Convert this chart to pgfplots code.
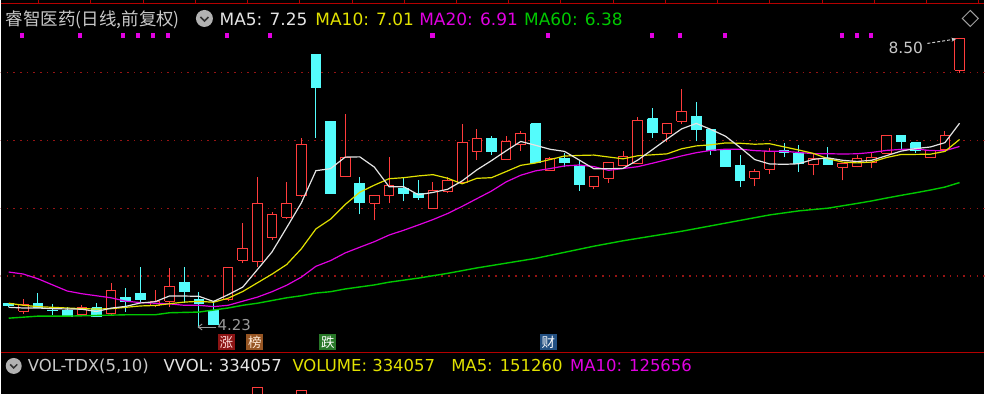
\documentclass[border=0pt]{standalone}
\usepackage{pgfplots}
\pgfplotsset{compat=1.18}
\usepackage{pgfplotstable}
\usepackage{fontspec}
\setmainfont{DejaVu Sans}
\newfontfamily\cjk{Noto Sans CJK SC}
\usetikzlibrary{arrows.meta}

\definecolor{upred}{RGB}{255,60,60}
\definecolor{dncyan}{RGB}{84,252,252}
\definecolor{mafive}{RGB}{228,228,228}
\definecolor{maten}{RGB}{225,225,0}
\definecolor{matwenty}{RGB}{225,0,225}
\definecolor{masixty}{RGB}{0,200,0}
\definecolor{gridred}{RGB}{150,20,20}
\definecolor{sepred}{RGB}{180,0,0}
\definecolor{txtgray}{RGB}{200,200,200}
\definecolor{zhangbg}{RGB}{140,20,20}
\definecolor{bangbg}{RGB}{150,85,35}
\definecolor{diebg}{RGB}{40,120,40}
\definecolor{caibg}{RGB}{35,80,130}

% candles: index open high low close
\pgfplotstableread{
i o h l c
0 4.60 4.61 4.55 4.56
1 4.48 4.66 4.44 4.58
2 4.59 4.75 4.53 4.54
3 4.50 4.59 4.43 4.49
4 4.50 4.54 4.41 4.41
5 4.43 4.57 4.43 4.54
6 4.53 4.60 4.41 4.41
7 4.455 4.90 4.43 4.79
8 4.69 4.82 4.47 4.62
9 4.75 5.13 4.60 4.66
10 4.57 4.79 4.54 4.63
11 4.63 5.12 4.54 4.84
12 4.91 5.13 4.60 4.78
13 4.65 4.76 4.23 4.60
14 4.50 4.60 4.28 4.28
15 4.65 5.14 4.64 5.13
16 5.235 5.78 5.19 5.40
17 5.21 6.46 5.13 6.07
18 5.57 5.94 5.53 5.90
19 5.87 6.38 5.84 6.07
20 6.18 7.03 6.16 6.94
21 8.265 8.27 7.04 7.78
22 7.28 7.29 6.21 6.22
23 6.46 7.38 6.46 6.75
24 6.37 6.46 5.91 6.09
25 6.07 6.19 5.82 6.18
26 6.19 6.75 6.07 6.34
27 6.29 6.46 6.10 6.22
28 6.21 6.41 6.12 6.16
29 6.00 6.38 6.00 6.26
30 6.25 6.46 6.22 6.41
31 6.38 7.24 6.38 6.96
32 6.84 7.16 6.71 7.03
33 7.03 7.07 6.79 6.84
34 6.71 7.07 6.71 6.985
35 6.94 7.13 6.84 7.10
36 7.24 7.26 6.66 6.68
37 6.56 6.75 6.56 6.735
38 6.735 6.81 6.60 6.68
39 6.62 6.71 6.26 6.35
40 6.32 6.47 6.28 6.46
41 6.44 6.68 6.37 6.68
42 6.63 6.84 6.63 6.76
43 6.66 7.34 6.66 7.29
44 7.32 7.47 7.04 7.12
45 7.10 7.24 6.97 7.24
46 7.28 7.76 7.24 7.43
47 7.35 7.57 6.985 7.16
48 7.16 7.16 6.79 6.85
49 6.85 6.86 6.61 6.62
50 6.63 6.78 6.31 6.41
51 6.44 6.57 6.32 6.54
52 6.57 6.88 6.51 6.84
53 6.85 6.96 6.75 6.82
54 6.81 6.93 6.53 6.66
55 6.65 6.82 6.485 6.735
56 6.735 6.90 6.64 6.65
57 6.60 6.67 6.41 6.66
58 6.62 6.78 6.60 6.735
59 6.68 6.81 6.59 6.75
60 6.81 7.08 6.80 7.07
61 7.07 7.08 6.85 6.985
62 6.96 6.97 6.81 6.85
63 6.75 6.86 6.74 6.85
64 6.87 7.13 6.86 7.07
65 8.03 8.50 7.985 8.50
}\candles

% moving averages
\pgfplotstableread{
i ma5 ma10 ma20
0 4.54 4.60 5.06
1 4.53 4.57 5.03
2 4.53 4.55 4.96
3 4.52 4.54 4.87
4 4.516 4.53 4.78
5 4.512 4.52 4.74
6 4.478 4.515 4.71
7 4.528 4.52 4.68
8 4.554 4.54 4.63
9 4.604 4.560 4.61
10 4.622 4.567 4.60
11 4.708 4.593 4.59
12 4.706 4.617 4.57
13 4.702 4.628 4.57
14 4.626 4.615 4.55
15 4.726 4.674 4.57
16 4.838 4.773 4.63
17 5.096 4.901 4.69
18 5.356 5.029 4.77
19 5.714 5.170 4.865
20 6.076 5.401 4.984
21 6.552 5.695 5.144
22 6.582 5.839 5.228
23 6.752 6.054 5.341
24 6.756 6.235 5.425
25 6.604 6.340 5.507
26 6.316 6.434 5.604
27 6.316 6.449 5.675
28 6.198 6.475 5.752
29 6.232 6.494 5.832
30 6.278 6.441 5.921
31 6.402 6.359 6.027
32 6.564 6.440 6.140
33 6.700 6.449 6.252
34 6.845 6.539 6.387
35 6.983 6.631 6.485
36 6.927 6.665 6.549
37 6.868 6.716 6.583
38 6.836 6.768 6.622
39 6.709 6.777 6.636
40 6.581 6.782 6.612
41 6.581 6.754 6.557
42 6.586 6.727 6.584
43 6.708 6.772 6.611
44 6.862 6.786 6.662
45 7.018 6.800 6.715
46 7.168 6.875 6.770
47 7.248 6.917 6.817
48 7.160 6.934 6.851
49 7.060 6.961 6.869
50 6.894 6.956 6.869
51 6.716 6.942 6.848
52 6.652 6.950 6.839
53 6.646 6.903 6.838
54 6.654 6.857 6.821
55 6.719 6.807 6.803
56 6.741 6.729 6.802
57 6.705 6.679 6.798
58 6.688 6.667 6.801
59 6.706 6.680 6.821
60 6.773 6.746 6.851
61 6.840 6.791 6.866
62 6.878 6.792 6.871
63 6.901 6.795 6.849
64 6.965 6.836 6.846
65 7.251 7.012 6.909
}\mas

\pgfplotstableread{
i ma60
0 4.38
2 4.41
4 4.41
6 4.42
8 4.43
10 4.43
11 4.46
13 4.47
14 4.50
15 4.53
16 4.57
17 4.60
18 4.64
19 4.68
20 4.71
21 4.75
22 4.77
23 4.81
24 4.84
25 4.87
26 4.91
28 4.97
30 5.04
32 5.12
34 5.19
36 5.26
38 5.35
40 5.44
42 5.52
44 5.59
46 5.66
48 5.74
50 5.82
52 5.90
54 5.96
56 6.00
58 6.07
59 6.107
60 6.149
61 6.189
62 6.227
63 6.267
64 6.311
65 6.377
}\masix

\begin{document}
\begin{tikzpicture}
\fill[black] (0,0) rectangle (985bp,394bp);
\begin{axis}[
  scale only axis, width=985bp, height=394bp,
  xmin=-0.546, xmax=66.69, ymin=3.2647, ymax=9.0588,
  hide axis, clip=true]
% grid
\foreach \g in {5,6,7,8}{
  \edef\gcmd{\noexpand\addplot[gridred, line width=1.2bp, dash pattern=on 1.5bp off 5.2bp, forget plot] coordinates {(-0.6,\g) (66.8,\g)};}
  \gcmd
}
% candles
\pgfplotsforeachungrouped \ci in {0,...,65}{%
  \pgfplotstablegetelem{\ci}{o}\of\candles \let\cO\pgfplotsretval
  \pgfplotstablegetelem{\ci}{h}\of\candles \let\cH\pgfplotsretval
  \pgfplotstablegetelem{\ci}{l}\of\candles \let\cL\pgfplotsretval
  \pgfplotstablegetelem{\ci}{c}\of\candles \let\cC\pgfplotsretval
  \pgfmathsetmacro\xa{\ci-0.33}%
  \pgfmathsetmacro\xb{\ci+0.33}%
  \ifdim\cC pt<\cO pt
    \edef\candlecmd{\noexpand\addplot[dncyan, line width=1bp, forget plot] coordinates {(\ci,\cL) (\ci,\cH)};
      \noexpand\addplot[draw=dncyan, fill=dncyan, line width=1bp, forget plot] coordinates {(\xa,\cO) (\xb,\cO) (\xb,\cC) (\xa,\cC) (\xa,\cO)};}%
  \else
    \edef\candlecmd{\noexpand\addplot[upred, line width=1bp, forget plot] coordinates {(\ci,\cL) (\ci,\cH)};
      \noexpand\addplot[draw=upred, fill=black, line width=1bp, forget plot] coordinates {(\xa,\cO) (\xb,\cO) (\xb,\cC) (\xa,\cC) (\xa,\cO)};}%
  \fi
  \candlecmd
}
% volume bar tops peeking at bottom
\addplot[draw=upred, fill=black, line width=1bp] coordinates {(16.67,3.2) (16.67,3.353) (17.33,3.353) (17.33,3.2)};
\addplot[draw=upred, fill=black, line width=1bp] coordinates {(19.67,3.2) (19.67,3.31) (20.33,3.31) (20.33,3.2)};
% moving averages
\addplot[masixty, line width=1.4bp, mark=none] table[x=i, y=ma60]{\masix};
\addplot[matwenty, line width=1.2bp, mark=none] table[x=i, y=ma20]{\mas};
\addplot[maten, line width=1.2bp, mark=none] table[x=i, y=ma10]{\mas};
\addplot[mafive, line width=1.2bp, mark=none] table[x=i, y=ma5]{\mas};
% signal dots
\addplot[only marks, mark=square*, mark size=1.7bp, color=matwenty] coordinates {
(0.89,8.55) (4.85,8.55) (7.78,8.55) (8.81,8.55) (9.83,8.55) (10.85,8.55)
(14.88,8.55) (17.82,8.55) (28.94,8.55) (36.86,8.55) (43.96,8.55) (45.87,8.55)
(48.94,8.55) (56.93,8.55) (57.96,8.55) (58.92,8.55)};
\end{axis}

\begin{scope}[shift={(0bp,394bp)}, x=1bp, y=-1bp]
% frame lines
\draw[sepred, line width=1.2bp] (0,3) -- (985,3);
\foreach \k in {0,...,18}{\draw[sepred, line width=1bp] ({38+52.3*\k},0) -- ({38+52.3*\k},3);}
\draw[sepred, line width=1.5bp] (0,352.5) -- (985,352.5);
% title row
\node[anchor=base west, inner sep=0pt, text=txtgray, font=\cjk\fontsize{17.5bp}{20bp}\selectfont] at (5,25) {睿智医药(日线,前复权)};
\fill[gray!60] (204,18) circle[radius=8.5bp];
\draw[black!80, line width=1.6bp] (200,16.5) -- (204,20.5) -- (208,16.5);
\node[anchor=base west, inner sep=0pt, text=mafive, font=\fontsize{17bp}{20bp}\selectfont] at (219,25) {MA5: 7.25};
\node[anchor=base west, inner sep=0pt, text=maten, font=\fontsize{17bp}{20bp}\selectfont] at (315,25) {MA10: 7.01};
\node[anchor=base west, inner sep=0pt, text=matwenty, font=\fontsize{17bp}{20bp}\selectfont] at (419,25) {MA20: 6.91};
\node[anchor=base west, inner sep=0pt, text=masixty, font=\fontsize{17bp}{20bp}\selectfont] at (524,25) {MA60: 6.38};
\draw[gray!75, line width=1bp] (971,10) -- (979,18) -- (971,26) -- (963,18) -- cycle;
% price annotations
\node[anchor=base west, inner sep=0pt, text=txtgray, font=\fontsize{15.5bp}{18bp}\selectfont] at (889,53.5) {8.50};
\draw[txtgray, line width=1bp, dash pattern=on 3bp off 2bp, -{Stealth[length=5bp,width=4bp]}] (928,43) -- (957,38.5);
\node[anchor=base west, inner sep=0pt, text=gray!80, font=\fontsize{15bp}{18bp}\selectfont] at (217,331) {4.23};
\draw[gray!80, line width=0.9bp, -{Straight Barb[length=4bp,width=6bp]}] (216,327) -- (197,327);
% event markers
\node[fill=zhangbg, text=white!85!red, font=\cjk\fontsize{13.5bp}{14bp}\selectfont, minimum width=17bp, minimum height=16bp, inner sep=0pt] at (226,342) {涨};
\node[fill=bangbg, text=white!85!orange, font=\cjk\fontsize{13.5bp}{14bp}\selectfont, minimum width=17bp, minimum height=16bp, inner sep=0pt] at (254.5,342) {榜};
\node[fill=diebg, text=white, font=\cjk\fontsize{13.5bp}{14bp}\selectfont, minimum width=17bp, minimum height=16bp, inner sep=0pt] at (327.5,342) {跌};
\node[fill=caibg, text=white, font=\cjk\fontsize{13.5bp}{14bp}\selectfont, minimum width=17bp, minimum height=16bp, inner sep=0pt] at (548.5,342) {财};
% volume header
\fill[gray!60] (13,366) circle[radius=8bp];
\draw[black!80, line width=1.5bp] (9.5,364.5) -- (13,368) -- (16.5,364.5);
\node[anchor=base west, inner sep=0pt, text=txtgray, font=\fontsize{16.5bp}{19bp}\selectfont] at (27,372) {VOL-TDX(5,10)};
\node[anchor=base west, inner sep=0pt, text=mafive, font=\fontsize{16.5bp}{19bp}\selectfont] at (163,372) {VVOL: 334057};
\node[anchor=base west, inner sep=0pt, text=maten, font=\fontsize{16.5bp}{19bp}\selectfont] at (292,372) {VOLUME: 334057};
\node[anchor=base west, inner sep=0pt, text=maten, font=\fontsize{16.5bp}{19bp}\selectfont] at (451,372) {MA5: 151260};
\node[anchor=base west, inner sep=0pt, text=matwenty, font=\fontsize{16.5bp}{19bp}\selectfont] at (570,372) {MA10: 125656};
\end{scope}
\end{tikzpicture}
\end{document}
